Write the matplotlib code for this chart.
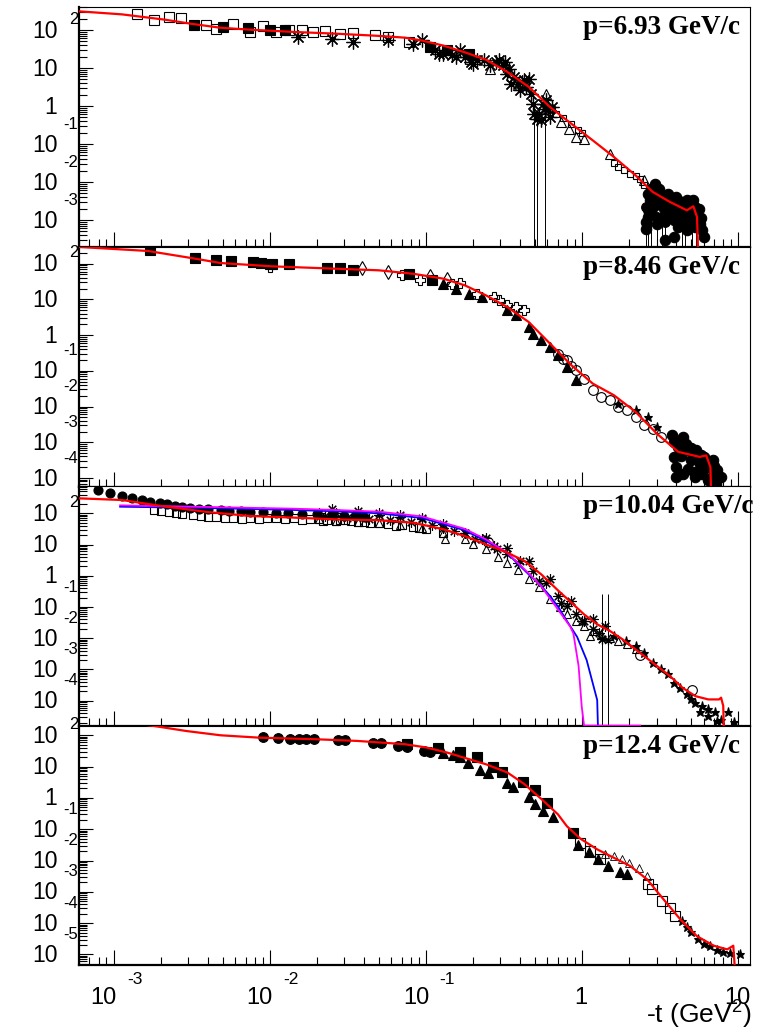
import numpy as np
import matplotlib
matplotlib.use("Agg")
import matplotlib.pyplot as plt
from matplotlib.ticker import LogLocator, NullFormatter

plt.rcParams["mathtext.fontset"] = "custom"
plt.rcParams["mathtext.rm"] = "Liberation Sans"
plt.rcParams["mathtext.it"] = "Liberation Sans:italic"

# ---------------- p = 6.93 GeV/c ----------------
p1_curve_t = [6.0e-4, 1.13e-3, 2.13e-3, 3.1e-3, 4.8e-3, 7.5e-3, 0.0142, 0.0266, 0.050, 0.073, 0.094,
              0.129, 0.177, 0.242, 0.332, 0.455, 0.623, 0.855, 1.17, 1.60, 2.20, 2.83, 3.65, 4.69,
              5.16, 5.45, 5.55]
p1_curve_y = [310, 258, 187, 147, 115, 102, 89, 80, 70, 63, 53, 39, 26, 16.6, 7.9, 3.2, 0.94, 0.34,
              0.125, 0.0455, 0.015, 0.0055, 0.003, 0.0018, 0.0023, 0.0012, 1e-4]
p1_osq_t = [1.42e-3, 1.82e-3, 2.27e-3, 2.71e-3, 3.88e-3, 4.55e-3, 5.85e-3, 7.5e-3, 9.1e-3, 0.011,
            0.0133, 0.016, 0.0188, 0.0227, 0.0283, 0.0342, 0.0469, 0.057, 0.0776]
p1_osq_y = [269, 187, 220, 211, 133, 108, 147, 89, 125, 89, 98, 98, 89, 94, 80, 83, 72, 65, 48]
p1_fsq_t = [3.27e-3, 5.0e-3, 7.3e-3, 0.010, 0.0125, 0.106, 0.137, 0.188]
p1_fsq_y = [133, 120, 115, 102, 98, 36, 29, 24]
p1_ast_t = [0.0151, 0.025, 0.0342, 0.057, 0.083, 0.094, 0.1135, 0.121, 0.129, 0.146, 0.156, 0.166,
            0.177, 0.194, 0.20, 0.213, 0.234, 0.258, 0.283, 0.292, 0.311, 0.321, 0.332, 0.342,
            0.353, 0.365, 0.388, 0.40, 0.413, 0.427, 0.44, 0.455, 0.469, 0.484, 0.532, 0.549,
            0.566, 0.585, 0.604, 0.623, 0.643]
p1_ast_y = [65, 59, 48, 53, 44, 53, 29, 24, 24, 21.5, 19.5, 29, 19.5, 14.4, 13.0, 15.9, 15.9, 11.7,
            14.4, 15.9, 11.7, 14.4, 7.1, 9.6, 3.9, 5.8, 3.9, 2.6, 4.3, 4.7, 3.2, 5.2, 2.1, 1.15,
            0.63, 0.42, 1.15, 1.41, 0.85, 0.51, 0.94]
p1_bar_t = [0.493, 0.515, 0.578]
p1_bar_y = [0.63, 0.45, 0.85]
p1_bar_lo = [1e-5, 1e-5, 1e-5]
p1_bar_hi = [0.95, 0.7, 1.3]
p1_otri_t = [0.258, 0.585, 0.73, 0.828, 0.91, 1.03, 1.51, 2.50]
p1_otri_y = [9.6, 2.1, 0.38, 0.25, 0.153, 0.138, 0.056, 0.011]
p1_ssq_t = [0.64, 0.68, 0.76, 0.855, 0.94, 1.0, 1.60, 1.70, 1.85, 2.03, 2.20, 2.34, 2.50]
p1_ssq_y = [0.85, 0.63, 0.49, 0.34, 0.23, 0.19, 0.032, 0.025, 0.0205, 0.0167, 0.0143, 0.0117, 0.0085]
p1_circ_t = [2.92, 2.66, 2.74, 2.83, 2.66, 2.58, 3.11, 3.21, 3.32, 3.42, 3.53, 3.65, 3.76, 3.88, 4.01,
             4.13, 4.27, 4.40, 4.55, 4.69, 4.84, 5.0, 5.16, 5.32, 5.49, 5.66, 5.85, 6.04, 3.42, 3.01,
             4.13, 4.69, 5.32, 3.88, 2.75, 2.95, 3.05, 3.15, 3.3, 3.6, 3.7, 3.95, 4.2, 4.35, 4.6,
             4.9, 5.1, 5.4, 5.6, 5.75, 2.7, 3.5, 4.5, 5.2, 2.55]
p1_circ_y = [0.009, 0.0049, 0.0033, 0.0022, 0.0012, 0.00059, 0.0067, 0.0036, 0.0022, 0.00147, 0.0049,
             0.0027, 0.0018, 0.00098, 0.004, 0.0022, 0.00147, 0.0027, 0.00098, 0.0033, 0.0018, 0.0027,
             0.00147, 0.0022, 0.0012, 0.0008, 0.00053, 0.00036, 0.00029, 0.0008, 0.00065, 0.00053,
             0.00065, 0.00036, 0.0065, 0.0058, 0.0042, 0.0028, 0.0045, 0.0038, 0.0012, 0.0026,
             0.0031, 0.0019, 0.0023, 0.0021, 0.0034, 0.0016, 0.0019, 0.0011, 0.0016, 0.0011,
             0.0012, 0.0009, 0.0009]
p1_cbar_t = [2.57, 2.66, 2.78, 3.01, 3.26, 3.38, 4.36, 4.55, 5.03, 5.35]
p1_cbar_y = [0.0022, 0.0018, 0.0015, 0.0012, 0.001, 0.0009, 0.0011, 0.0009, 0.0008, 0.0007]
p1_cbar_lo = [1e-5] * 10

# ---------------- p = 8.46 GeV/c ----------------
p2_curve_t = [6.0e-4, 1.66e-3, 3.32e-3, 4.84e-3, 0.0103, 0.0266, 0.050, 0.083, 0.129, 0.177, 0.242,
              0.332, 0.455, 0.623, 0.855, 1.17, 1.60, 2.20, 3.01, 4.13, 5.66, 6.24, 6.64, 6.85]
p2_curve_y = [293, 226, 138, 104, 84, 72, 65, 52, 38, 24.8, 13.0, 6.1, 2.33, 0.58, 0.143, 0.044,
              0.0207, 0.0071, 0.00175, 0.00054, 0.00039, 0.00043, 0.0002, 1e-6]
p2_fsq_t = [1.71e-3, 3.32e-3, 4.55e-3, 5.66e-3, 7.76e-3, 8.8e-3, 0.0103, 0.0133, 0.0234, 0.0283,
            0.0342, 0.0776, 0.11]
p2_fsq_y = [236, 147, 124, 119, 111, 104, 100, 96, 77, 77, 68, 50, 34]
p2_dia_t = [0.0388, 0.057, 0.106, 0.137]
p2_dia_y = [77, 58, 44, 38]
p2_cross_t = [0.010, 0.0706, 0.091, 0.146, 0.166, 0.213, 0.274, 0.292, 0.332, 0.38, 0.427]
p2_cross_y = [81, 47, 34, 27.5, 28.7, 14.5, 11.7, 9.4, 6.8, 6.1, 4.9]
p2_ftri_t = [0.129, 0.156, 0.188, 0.227, 0.332, 0.38, 0.455, 0.484, 0.549, 0.623, 0.706, 0.80, 0.91]
p2_ftri_y = [27.5, 20, 14.5, 11.7, 4.9, 3.6, 1.69, 1.1, 0.71, 0.47, 0.272, 0.128, 0.054]
p2_ocirc_t = [0.706, 0.75, 0.80, 0.85, 0.91, 1.03, 1.17, 1.33, 1.51, 1.71, 1.94, 2.20, 2.50, 2.83, 3.21]
p2_ocirc_y = [0.30, 0.22, 0.197, 0.14, 0.103, 0.0605, 0.0285, 0.0186, 0.015, 0.0097, 0.0079, 0.0051,
              0.003, 0.0024, 0.0014]
p2_star_t = [1.71, 2.2, 2.66, 3.01, 7.77]
p2_star_y = [0.0121, 0.0079, 0.0051, 0.0027, 0.000107]
p2_circ_t = [3.76, 4.40, 4.13, 3.88, 4.01, 4.69, 5.0, 5.32, 5.66, 6.04, 6.43, 6.85, 7.3, 7.77, 4.40,
             5.32, 6.43, 4.01, 3.9, 4.2, 4.6, 5.0, 5.4, 5.8, 6.2, 6.6, 7.0, 4.3, 4.8, 5.2, 5.9,
             6.8, 7.2]
p2_circ_y = [0.00157, 0.0014, 0.00074, 0.00039, 0.0002, 0.0006, 0.00031, 0.00048, 0.00025, 0.00039,
             0.0002, 0.00031, 0.000164, 0.000107, 0.000133, 0.000107, 0.000087, 0.000107, 0.001,
             0.0011, 0.0009, 0.0007, 0.0006, 0.00045, 0.0003, 0.00025, 0.00022, 0.0004, 0.00018,
             0.00015, 0.00013, 0.00011, 7e-5]

# ---------------- p = 10.04 GeV/c ----------------
p3_curve_t = [6.0e-4, 1.13e-3, 2.13e-3, 4.0e-3, 7.5e-3, 0.0142, 0.0266, 0.050, 0.083, 0.129, 0.177,
              0.242, 0.332, 0.427, 0.549, 0.706, 0.855, 1.03, 1.25, 1.51, 1.82, 2.20, 2.83, 3.65,
              4.40, 5.32, 6.43, 7.53, 7.77, 8.02, 8.28]
p3_curve_y = [302, 267, 165, 110, 82, 73, 64, 60, 50, 31, 18.8, 10.2, 5.5, 3.0, 1.1, 0.33, 0.138,
              0.058, 0.028, 0.017, 0.0092, 0.0044, 0.00166, 0.00062, 0.00026, 0.00014, 0.00011,
              0.00011, 0.000125, 6.8e-5, 1e-7]
p3_blue_t = [1.1e-3, 4.0e-3, 0.0142, 0.0266, 0.050, 0.094, 0.177, 0.242, 0.332, 0.455, 0.549, 0.623,
             0.706, 0.80, 0.93, 1.07, 1.25, 1.30]
p3_blue_y = [163, 148, 128, 116, 100, 71, 28.6, 13, 5.2, 1.11, 0.47, 0.225, 0.098, 0.0357, 0.011,
             0.002, 0.000105, 1e-7]
p3_mag_t = [1.1e-3, 4.0e-3, 0.0142, 0.0266, 0.050, 0.094, 0.177, 0.242, 0.332, 0.455, 0.549, 0.64,
            0.75, 0.84, 0.88, 0.95, 0.995, 1.03, 2.36]
p3_mag_y = [180, 160, 141, 128, 113, 80, 32, 14.7, 5.5, 1.2, 0.45, 0.156, 0.052, 0.0235, 0.0142,
            0.0013, 6.5e-5, 1.6e-5, 1.6e-5]
p3_circ_t = [7.96e-4, 9.5e-4, 1.13e-3, 1.31e-3, 1.51e-3, 1.72e-3, 1.98e-3, 2.2e-3, 2.46e-3, 2.74e-3,
             3.07e-3, 3.53e-3, 4.0e-3, 4.84e-3, 5.5e-3, 6.5e-3, 7.5e-3, 9e-3, 0.011, 0.013, 0.016,
             0.02, 0.025, 0.03, 0.035, 0.04]
p3_circ_y = [558, 437, 359, 302, 267, 236, 209, 194, 172, 163, 152, 141, 134, 128, 122, 118, 112,
             108, 104, 100, 97, 92, 88, 84, 80, 77]
p3_osq_t = [1.82e-3, 2.0e-3, 2.27e-3, 2.5e-3, 2.74e-3, 3.21e-3, 3.6e-3, 4.0e-3, 4.5e-3, 5.15e-3,
            5.8e-3, 6.64e-3, 7.5e-3, 8.55e-3, 9.6e-3, 0.011, 0.0125, 0.0142, 0.016, 0.0182, 0.0207,
            0.022, 0.0234, 0.0266, 0.028, 0.0301, 0.033, 0.0365, 0.040, 0.044, 0.05, 0.057, 0.0643,
            0.07, 0.083, 0.09, 0.1, 0.129]
p3_osq_y = [128, 120, 110, 100, 93, 86, 80, 76, 78, 73, 70, 64, 72, 64, 70, 69, 66, 73, 62, 67, 64,
            58, 61, 57, 60, 61, 55, 53, 52, 50, 48, 44, 39, 42, 37, 35, 31, 24]
p3_ast_t = [0.025, 0.0365, 0.05, 0.0685, 0.094, 0.129, 0.177, 0.227, 0.274, 0.332, 0.40, 0.484,
            0.585, 0.706, 0.80, 0.91, 1.03, 1.17, 1.35,
            0.0207, 0.0266, 0.0365, 0.05, 0.0685, 0.094, 0.129, 0.177, 0.242, 0.332, 0.455, 0.623,
            0.855, 1.17, 1.41,
            0.0227, 0.031, 0.043, 0.0585, 0.080, 0.110, 0.151, 0.207, 0.284, 0.39, 0.53, 0.73,
            1.0, 1.29]
p3_ast_y = [134, 119, 105, 86, 73, 44, 24, 14.7, 9.0, 4.9, 3.0, 1.43, 0.60, 0.225, 0.108, 0.058,
            0.036, 0.0193, 0.0092,
            105, 100, 93, 86, 78, 64, 35, 24, 16.6, 8.0, 3.0, 0.77, 0.156, 0.040, 0.0247,
            82, 73, 67, 60, 53, 41, 27, 14.7, 7.0, 2.6, 0.68, 0.138, 0.036, 0.0151]
p3_otri_t = [0.133, 0.177, 0.242, 0.332, 0.455, 0.623, 0.80, 0.91, 1.03, 1.17, 1.33, 1.51, 1.71,
             1.94, 2.20, 0.0207, 0.0266, 0.0365, 0.05, 0.0685, 0.094, 0.129, 0.2, 0.29, 0.39, 0.53,
             0.72, 1.12]
p3_otri_y = [15.4, 14.7, 7.0, 2.6, 0.77, 0.176, 0.058, 0.0357, 0.0247, 0.017, 0.0134, 0.0105,
             0.0082, 0.0064, 0.0044, 64, 57, 53, 48, 41, 35, 24, 10.5, 4.0, 1.5, 0.45, 0.1, 0.012]
p3_star_t = [1.6, 1.9, 2.2, 2.5, 2.83, 3.21, 3.53, 3.88, 4.27, 4.69, 5.0, 5.32, 5.85, 6.43, 7.07,
             7.77, 8.55, 9.4, 5.66, 6.43, 7.3]
p3_star_y = [0.012, 0.008, 0.0055, 0.0033, 0.00166, 0.00101, 0.0007, 0.00038, 0.00026, 0.00016,
             0.00011, 8.7e-5, 6.8e-5, 5.3e-5, 4.2e-5, 2.5e-5, 4.2e-5, 2.1e-5, 4.2e-5, 3.2e-5, 2.3e-5]
p3_ocirc_t = [0.251, 2.36, 5.06]
p3_ocirc_y = [12.4, 0.0029, 0.00022]
p3_bar_t = [1.34, 1.47]
p3_bar_y = [0.0095, 0.0085]
p3_bar_lo = [1e-6, 1e-6]
p3_bar_hi = [0.26, 0.26]

# ---------------- p = 12.4 GeV/c ----------------
p4_curve_t = [1.2e-3, 1.82e-3, 2.92e-3, 4.84e-3, 8.55e-3, 0.0194, 0.0365, 0.073, 0.1, 0.137, 0.177,
              0.242, 0.332, 0.427, 0.549, 0.70, 0.80, 0.975, 1.25, 1.6, 2.04, 2.61, 3.33, 4.27, 5.45,
              6.98, 8.5, 9.3, 10.0]
p4_curve_y = [260, 198, 137, 100, 84, 75, 66, 52, 41, 28, 19, 11.9, 6.5, 2.76, 0.92, 0.3, 0.124,
              0.05, 0.0227, 0.0122, 0.0066, 0.0025, 0.00057, 0.00013, 3.8e-5, 1.9e-5, 1.45e-5,
              1.9e-5, 1e-7]
p4_circ_t = [9.1e-3, 0.0113, 0.0135, 0.0153, 0.0171, 0.0192, 0.0274, 0.0301, 0.0455, 0.0516, 0.0664,
             0.0754, 0.0969, 0.106]
p4_circ_y = [91, 84, 78, 75, 75, 75, 71, 71, 58, 56, 46, 41, 32, 29.5]
p4_fsq_t = [0.0754, 0.12, 0.166, 0.213, 0.269, 0.308, 0.421, 0.503, 0.60, 0.875]
p4_fsq_y = [52, 39.5, 29.5, 20.5, 9.8, 6.8, 3.3, 1.82, 0.70, 0.078]
p4_ftri_t = [0.129, 0.148, 0.166, 0.187, 0.223, 0.251, 0.332, 0.362, 0.455, 0.50, 0.56, 0.655, 0.944,
             1.1, 1.27, 1.47, 1.75, 1.95]
p4_ftri_y = [27.4, 23.7, 20.5, 13.2, 7.9, 6.3, 3.05, 2.27, 1.04, 0.64, 0.39, 0.252, 0.0324, 0.0181,
             0.0108, 0.0065, 0.0042, 0.0036]
p4_otri_t = [0.158, 1.4, 1.6, 1.8, 1.99, 2.3, 2.61]
p4_otri_y = [30, 0.016, 0.0138, 0.011, 0.0085, 0.0059, 0.0032]
p4_osq_t = [0.975, 1.13, 1.31, 2.66, 2.8, 3.25, 3.67, 3.95]
p4_osq_y = [0.0376, 0.0199, 0.0108, 0.00173, 0.0012, 0.00051, 0.00031, 0.00017]
p4_star_t = [4.35, 4.69, 5.0, 5.49, 6.04, 6.64, 7.3, 8.02, 8.81, 10.3]
p4_star_y = [0.000118, 7.6e-5, 5.3e-5, 3.2e-5, 2.2e-5, 1.8e-5, 1.4e-5, 1.22e-5, 1.1e-5, 1.0e-5]

panel_labels = ["p=6.93 GeV/c", "p=8.46 GeV/c", "p=10.04 GeV/c", "p=12.4 GeV/c"]
panel_ylims = [(1.95e-4, 403), (5.6e-5, 292), (1.55e-5, 750), (4.6e-6, 198)]
panel_exps = [range(2, -4, -1), range(2, -5, -1), range(2, -5, -1), range(2, -6, -1)]
x_label_exps = [-3, -2, -1, 0, 1]
XMIN, XMAX = 6.0e-4, 11.9

SANS = "Liberation Sans"
SERIF = "Liberation Serif"
ASTER = (8, 2, 0)

fig = plt.figure(figsize=(7.69, 10.31), dpi=100)
W, H = 769, 1031
L, R = 79, 750
tops = [7, 247, 486, 726]
bots = [247, 487, 726, 965]
axes = []
for top, bot in zip(tops, bots):
    ax = fig.add_axes([L / W, 1 - bot / H, (R - L) / W, (bot - top) / H])
    axes.append(ax)


def style_axis(ax, ylim, exps, label):
    ax.set_xscale("log")
    ax.set_yscale("log")
    ax.set_xlim(XMIN, XMAX)
    ax.set_ylim(*ylim)
    for s in ["left", "bottom"]:
        ax.spines[s].set_linewidth(1.6)
    for s in ["top", "right"]:
        ax.spines[s].set_linewidth(0.8)
    for axis in (ax.xaxis, ax.yaxis):
        axis.set_major_locator(LogLocator(base=10, numticks=100))
        axis.set_minor_locator(LogLocator(base=10, subs=np.arange(2, 10), numticks=100))
        axis.set_major_formatter(NullFormatter())
        axis.set_minor_formatter(NullFormatter())
    ax.tick_params(axis="x", which="major", direction="in", length=10.8, width=0.8,
                   top=False, bottom=True)
    ax.tick_params(axis="x", which="minor", direction="in", length=5.8, width=0.8,
                   top=False, bottom=True)
    ax.tick_params(axis="y", which="major", direction="in", length=10, width=0.8,
                   left=True, right=False)
    ax.tick_params(axis="y", which="minor", direction="in", length=5.8, width=0.8,
                   left=True, right=False)

    # ROOT-like y labels: "10" with the exponent set apart above it
    for e in exps:
        yv = 10.0 ** e
        base = "1" if e == 0 else "10"
        ax.annotate(base, xy=(0, yv), xycoords=("axes fraction", "data"),
                    xytext=(-21.5, -1), textcoords="offset pixels",
                    ha="right", va="center", fontsize=16.5, family=SANS)
        if e not in (0, 1):
            up = 11 if e > 0 else 20
            ax.annotate(str(e), xy=(0, yv), xycoords=("axes fraction", "data"),
                        xytext=(-1, up), textcoords="offset pixels",
                        ha="right", va="center", fontsize=12, family=SANS)

    ax.text(0.751, 1 - 27.0 / (ax.bbox.height), label, transform=ax.transAxes,
            ha="left", va="baseline", fontsize=19.5, fontweight="bold", family=SERIF)


def marks(ax, t, y, marker, size, filled=True, mew=0.8):
    ax.plot(t, y, ls="none", marker=marker, ms=size, mec="black",
            mfc="black" if filled else "none", mew=mew, zorder=2)


def bars(ax, t, y, lo, hi):
    yv = np.array(y)
    err = [yv - np.array(lo), np.array(hi) - yv]
    ax.errorbar(t, y, yerr=err, fmt="none", ecolor="black", elinewidth=0.7,
                capsize=0, zorder=2)


def curve(ax, t, y, color, lw=1.6):
    ax.plot(t, y, color=color, lw=lw, zorder=4)


for ax, ylim, exps, label in zip(axes, panel_ylims, panel_exps, panel_labels):
    style_axis(ax, ylim, exps, label)

ax1, ax2, ax3, ax4 = axes

# panel 1
bars(ax1, p1_bar_t, p1_bar_y, p1_bar_lo, p1_bar_hi)
bars(ax1, p1_cbar_t, p1_cbar_y, p1_cbar_lo, p1_cbar_y)
marks(ax1, p1_cbar_t, p1_cbar_y, "o", 7)
marks(ax1, p1_osq_t, p1_osq_y, "s", 7.2, filled=False)
marks(ax1, p1_fsq_t, p1_fsq_y, "s", 6.5)
marks(ax1, p1_ast_t, p1_ast_y, ASTER, 10, mew=0.9)
marks(ax1, p1_bar_t, p1_bar_y, ASTER, 10, mew=0.9)
marks(ax1, p1_otri_t, p1_otri_y, "^", 6.5, filled=False)
marks(ax1, p1_ssq_t, p1_ssq_y, "s", 4.3, filled=False)
marks(ax1, p1_circ_t, p1_circ_y, "o", 7.5)
curve(ax1, p1_curve_t, p1_curve_y, "#ff0000")

# panel 2
marks(ax2, p2_fsq_t, p2_fsq_y, "s", 6.8)
marks(ax2, p2_dia_t, p2_dia_y, "d", 7, filled=False)
marks(ax2, p2_cross_t, p2_cross_y, "P", 7, filled=False)
marks(ax2, p2_ftri_t, p2_ftri_y, "^", 7)
marks(ax2, p2_ocirc_t, p2_ocirc_y, "o", 7, filled=False)
marks(ax2, p2_star_t, p2_star_y, "*", 6.5)
marks(ax2, p2_circ_t, p2_circ_y, "o", 7.5)
curve(ax2, p2_curve_t, p2_curve_y, "#ff0000")

# panel 3
bars(ax3, p3_bar_t, p3_bar_y, p3_bar_lo, p3_bar_hi)
marks(ax3, p3_bar_t, p3_bar_y, ASTER, 7)
marks(ax3, p3_osq_t, p3_osq_y, "s", 6, filled=False)
marks(ax3, p3_circ_t, p3_circ_y, "o", 6.5)
marks(ax3, p3_otri_t, p3_otri_y, "^", 6, filled=False)
marks(ax3, p3_ast_t, p3_ast_y, ASTER, 7.5)
marks(ax3, p3_star_t, p3_star_y, "*", 6.5)
marks(ax3, p3_ocirc_t, p3_ocirc_y, "o", 7, filled=False)
curve(ax3, p3_blue_t, p3_blue_y, "#0000ff", lw=1.3)
curve(ax3, p3_mag_t, p3_mag_y, "#ff00ff", lw=1.3)
curve(ax3, p3_curve_t, p3_curve_y, "#ff0000")

# panel 4
marks(ax4, p4_circ_t, p4_circ_y, "o", 7)
marks(ax4, p4_fsq_t, p4_fsq_y, "s", 7.8)
marks(ax4, p4_ftri_t, p4_ftri_y, "^", 7)
marks(ax4, p4_otri_t, p4_otri_y, "^", 6, filled=False, mew=0.6)
marks(ax4, p4_osq_t, p4_osq_y, "s", 6.8, filled=False)
marks(ax4, p4_star_t, p4_star_y, "*", 6.5)
curve(ax4, p4_curve_t, p4_curve_y, "#ff0000")

# x labels on the bottom panel, same split-exponent layout
for e in x_label_exps:
    xv = 10.0 ** e
    if e in (0, 1):
        ax4.annotate("1" if e == 0 else "10", xy=(xv, 0), xycoords=("data", "axes fraction"),
                     xytext=(-1, -33), textcoords="offset pixels",
                     ha="center", va="center", fontsize=17, family=SANS)
    else:
        ax4.annotate("10", xy=(xv, 0), xycoords=("data", "axes fraction"),
                     xytext=(-10, -33), textcoords="offset pixels",
                     ha="center", va="center", fontsize=17, family=SANS)
        ax4.annotate(str(e), xy=(xv, 0), xycoords=("data", "axes fraction"),
                     xytext=(21, -15), textcoords="offset pixels",
                     ha="center", va="center", fontsize=12.5, family=SANS)

# axis title
fig.text(751 / W, 1 - 1015 / H, r"-t (GeV$^{2}$)", ha="right", va="center",
         fontsize=19, family=SANS)

fig.savefig("out.png", dpi=100)
